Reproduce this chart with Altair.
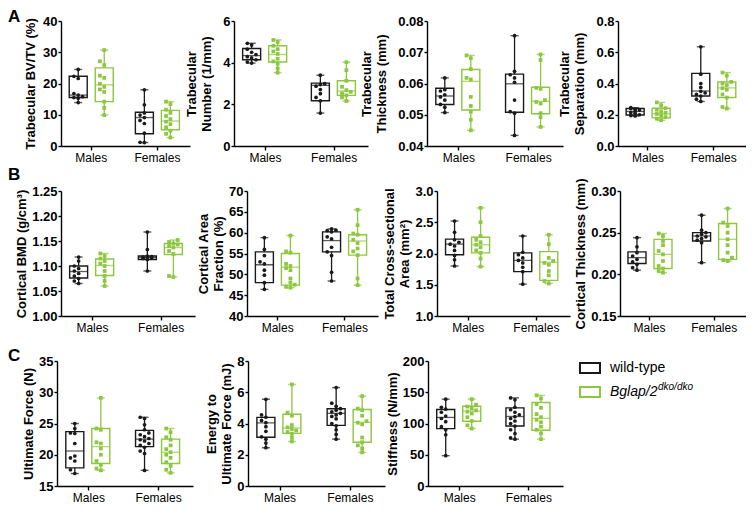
import altair as alt
import pandas as pd

FONT = "Liberation Sans"
WT_COLOR = "#1a1a1a"
KO_COLOR = "#8dc63f"
SEX = ["Males", "Females"]
GENO = ["wt", "ko"]
GROUPS = [("Males", "wt"), ("Males", "ko"), ("Females", "wt"), ("Females", "ko")]
SLOTS = ["wt-1", "wt0", "wt1", "g1", "g2", "g3", "ko-1", "ko0", "ko1"]
LEGEND_LABELS = ["wild-type", "Bglap/2"]
LEGEND_SUP = "dko/dko"

# ---------------- data (box = min, q1, median, q3, max for M-wt, M-ko, F-wt, F-ko)
bvtv_m_wt = [24.5, 22.3, 21.6, 16.8, 16.3, 15.8, 15.5, 15.3, 13.9]
bvtv_m_ko = [30.7, 27.1, 25.9, 22.5, 21.8, 19.9, 18.9, 18.1, 17.3, 14.2, 12.2, 9.9]
bvtv_f_wt = [18.0, 13.2, 10.6, 9.9, 9.1, 8.2, 7.2, 4.1, 1.2, 1.1]
bvtv_f_ko = [14.2, 13.4, 11.6, 10.6, 9.6, 8.6, 7.8, 7.0, 6.0, 4.9, 3.9, 2.7]
bvtv_box = [[13.9, 15.5, 16.3, 22.3, 24.5], [9.9, 14.2, 19.6, 25.0, 30.7],
            [1.1, 3.9, 9.1, 10.8, 18.0], [2.7, 5.2, 8.0, 11.4, 14.2]]

tbn_m_wt = [4.93, 4.85, 4.65, 4.5, 4.39, 4.29, 4.23, 4.14, 4.03, 3.98]
tbn_m_ko = [5.09, 4.99, 4.81, 4.65, 4.54, 4.42, 4.19, 4.06, 3.95, 3.72, 3.52]
tbn_f_wt = [3.4, 2.99, 2.95, 2.87, 2.71, 2.51, 2.33, 2.17, 1.58]
tbn_f_ko = [4.02, 3.64, 3.13, 2.84, 2.68, 2.6, 2.53, 2.43, 2.33, 2.16]
tbn_box = [[3.98, 4.14, 4.34, 4.68, 4.93], [3.52, 4.03, 4.39, 4.81, 5.09],
           [1.58, 2.17, 2.91, 3.02, 3.4], [2.16, 2.43, 2.64, 3.13, 4.02]]

tbth_m_wt = [0.0618, 0.0580, 0.0576, 0.0564, 0.0557, 0.0547, 0.0533, 0.0524, 0.0507]
tbth_m_ko = [0.0690, 0.0681, 0.0646, 0.0618, 0.0613, 0.0557, 0.0528, 0.0510, 0.0484, 0.0450]
tbth_f_wt = [0.0753, 0.0639, 0.0628, 0.0618, 0.0604, 0.0547, 0.0510, 0.0505, 0.0434]
tbth_f_ko = [0.0693, 0.0675, 0.0586, 0.0583, 0.0547, 0.0541, 0.0536, 0.0505, 0.0492, 0.0461]
tbth_box = [[0.0507, 0.0533, 0.0560, 0.0585, 0.0618], [0.0450, 0.0515, 0.0607, 0.0645, 0.0690],
            [0.0434, 0.0508, 0.0599, 0.0630, 0.0753], [0.0461, 0.0503, 0.0543, 0.0588, 0.0693]]

tbsp_m_wt = [0.245, 0.240, 0.236, 0.230, 0.222, 0.215, 0.210, 0.200, 0.195, 0.192]
tbsp_m_ko = [0.279, 0.260, 0.242, 0.232, 0.222, 0.212, 0.205, 0.195, 0.185, 0.175, 0.165]
tbsp_f_wt = [0.635, 0.460, 0.400, 0.375, 0.350, 0.340, 0.330, 0.320, 0.300, 0.285]
tbsp_f_ko = [0.470, 0.450, 0.410, 0.400, 0.390, 0.370, 0.360, 0.330, 0.310, 0.250, 0.240]
tbsp_box = [[0.192, 0.198, 0.221, 0.240, 0.245], [0.165, 0.180, 0.207, 0.242, 0.279],
            [0.285, 0.320, 0.352, 0.465, 0.635], [0.240, 0.310, 0.372, 0.410, 0.470]]

bmd_m_wt = [1.118, 1.110, 1.100, 1.095, 1.090, 1.085, 1.080, 1.075, 1.070, 1.065]
bmd_m_ko = [1.125, 1.120, 1.115, 1.110, 1.105, 1.100, 1.090, 1.080, 1.070, 1.060]
bmd_f_wt = [1.168, 1.133, 1.120, 1.119, 1.118, 1.117, 1.116, 1.115, 1.113, 1.090]
bmd_f_ko = [1.152, 1.148, 1.145, 1.143, 1.140, 1.137, 1.130, 1.124, 1.080, 1.078]
bmd_box = [[1.065, 1.076, 1.089, 1.100, 1.118], [1.060, 1.081, 1.101, 1.114, 1.125],
           [1.090, 1.113, 1.117, 1.120, 1.168], [1.078, 1.123, 1.137, 1.145, 1.152]]

caf_m_wt = [58.8, 56.0, 54.5, 53.0, 52.5, 51.0, 49.8, 48.0, 46.4]
caf_m_ko = [59.3, 55.5, 55.2, 52.5, 52.0, 51.5, 51.0, 49.0, 48.0, 47.5, 47.0, 46.8]
caf_f_wt = [60.9, 60.6, 60.5, 60.2, 59.0, 58.5, 56.5, 55.4, 54.5, 50.5, 48.4]
caf_f_ko = [65.5, 61.8, 59.8, 59.5, 58.3, 57.5, 56.2, 55.5, 54.6, 49.0, 47.4]
caf_box = [[46.4, 48.0, 52.3, 55.4, 58.8], [46.8, 47.4, 51.7, 55.0, 59.3],
           [48.4, 55.4, 58.1, 60.2, 60.9], [47.4, 54.6, 58.0, 59.5, 65.5]]

tca_m_wt = [2.52, 2.34, 2.22, 2.18, 2.15, 2.12, 2.05, 1.97, 1.90, 1.80]
tca_m_ko = [2.73, 2.50, 2.28, 2.22, 2.18, 2.14, 2.10, 2.05, 2.01, 1.92, 1.79]
tca_f_wt = [2.28, 2.02, 1.98, 1.93, 1.89, 1.85, 1.78, 1.71, 1.51]
tca_f_ko = [2.30, 2.15, 1.93, 1.88, 1.85, 1.82, 1.72, 1.65, 1.56, 1.52]
tca_box = [[1.80, 1.98, 2.15, 2.23, 2.52], [1.79, 2.01, 2.14, 2.26, 2.73],
           [1.51, 1.71, 1.89, 2.01, 2.28], [1.52, 1.57, 1.86, 2.03, 2.30]]

ctth_m_wt = [0.244, 0.233, 0.226, 0.222, 0.218, 0.215, 0.212, 0.208, 0.205]
ctth_m_ko = [0.249, 0.246, 0.240, 0.235, 0.228, 0.224, 0.216, 0.210, 0.207, 0.204, 0.202]
ctth_f_wt = [0.271, 0.253, 0.250, 0.248, 0.246, 0.245, 0.243, 0.241, 0.238, 0.214]
ctth_f_ko = [0.279, 0.262, 0.258, 0.250, 0.242, 0.235, 0.226, 0.220, 0.217, 0.216]
ctth_box = [[0.205, 0.213, 0.220, 0.227, 0.244], [0.202, 0.207, 0.224, 0.242, 0.249],
            [0.214, 0.240, 0.246, 0.250, 0.271], [0.216, 0.218, 0.242, 0.261, 0.279]]

uf_m_wt = [25.0, 24.2, 23.5, 23.4, 21.8, 19.8, 19.5, 19.0, 17.6, 17.0]
uf_m_ko = [29.1, 24.2, 24.0, 22.0, 21.8, 21.0, 20.0, 19.0, 18.4, 17.8, 17.5]
uf_f_wt = [26.0, 25.8, 24.8, 24.0, 23.5, 23.2, 22.9, 22.6, 22.4, 22.2, 21.8, 21.5, 21.2, 20.6, 20.2, 17.5]
uf_f_ko = [24.2, 23.6, 22.8, 22.4, 21.5, 20.9, 20.4, 20.0, 19.5, 18.8, 18.2, 17.6, 17.1]
uf_box = [[17.0, 17.9, 20.6, 23.7, 25.0], [17.5, 18.6, 21.3, 24.2, 29.1],
          [17.5, 21.3, 22.5, 23.9, 26.0], [17.1, 18.6, 20.4, 22.5, 24.2]]

en_m_wt = [5.55, 4.55, 4.40, 4.20, 4.05, 3.80, 3.50, 3.15, 3.00, 2.75, 2.45]
en_m_ko = [6.50, 4.70, 4.50, 3.90, 3.75, 3.65, 3.55, 3.45, 3.35, 3.10, 2.85]
en_f_wt = [6.30, 5.30, 5.10, 4.95, 4.85, 4.75, 4.65, 4.55, 4.45, 4.30, 4.00, 3.85, 3.60, 3.30, 3.00]
en_f_ko = [5.75, 4.95, 4.85, 4.50, 4.15, 4.05, 3.95, 3.10, 2.80, 2.60, 2.40, 2.15]
en_box = [[2.45, 3.12, 4.04, 4.39, 5.55], [2.85, 3.37, 3.71, 4.59, 6.50],
          [3.00, 3.88, 4.65, 4.94, 6.30], [2.15, 2.80, 4.08, 4.90, 5.75]]

st_m_wt = [139, 126, 123, 118, 112, 108, 103, 95, 90, 82, 48.5]
st_m_ko = [139, 130, 127, 124, 121, 119, 116, 110, 104, 97, 92]
st_f_wt = [141, 138, 126, 122, 118, 114, 111, 108, 104, 100, 96, 90, 84, 77, 75]
st_f_ko = [145, 140, 131, 125, 115, 110, 106, 102, 95, 90, 84, 75]
st_box = [[48.5, 91.8, 109.7, 122.4, 139], [92, 103.6, 119.9, 127.6, 139],
          [75, 95.9, 111.2, 125, 141], [75, 89.3, 108.2, 133.7, 145]]


def swarm(vals, lo, hi, H, mind=3.8):
    """Deterministic side-by-side placement of overlapping points."""
    order = sorted(range(len(vals)), key=lambda i: vals[i])
    placed = []
    out = [0] * len(vals)
    for i in order:
        py = (vals[i] - lo) / (hi - lo) * H
        best = None
        for j in (0, -1, 1):
            if not any(k == j and abs(py - q) < mind for q, k in placed):
                best = j
                break
        if best is None:
            best = min((0, -1, 1), key=lambda j: sum(1 for q, k in placed if k == j and abs(py - q) < mind))
        placed.append((py, best))
        out[i] = best
    return out


color = alt.Color("geno:N", scale=alt.Scale(domain=GENO, range=[WT_COLOR, KO_COLOR]), legend=None)
stroke = alt.Stroke("geno:N", scale=alt.Scale(domain=GENO, range=[WT_COLOR, KO_COLOR]), legend=None)
shape = alt.Shape("geno:N", scale=alt.Scale(domain=GENO, range=["circle", "square"]), legend=None)


def make_panel(W, H, title, lo, hi, step, fmt, box, pts, letter=None, tpad=3):
    bdf = pd.DataFrame([
        {"sex": s, "geno": g, "slot": g + "0", "lo": b[0], "q1": b[1], "med": b[2], "q3": b[3], "hi": b[4]}
        for (s, g), b in zip(GROUPS, box)])
    rows = []
    for (s, g), vals in zip(GROUPS, pts):
        for v, j in zip(vals, swarm(vals, lo, hi, H)):
            rows.append({"sex": s, "geno": g, "slot": f"{g}{j}", "value": v})
    pdf = pd.DataFrame(rows)
    n = int(round((hi - lo) / step))
    ticks = [round(lo + i * step, 6) for i in range(n + 1)]
    ys = alt.Scale(domain=[lo, hi], nice=False, zero=False)
    ya = alt.Axis(title=title, values=ticks, format=fmt, titlePadding=tpad)
    x = alt.X("sex:N", scale=alt.Scale(domain=SEX, paddingInner=0.41, paddingOuter=0.18, align=0.45),
              axis=alt.Axis(title=None, labelAngle=0))
    xo = alt.XOffset("slot:N", scale=alt.Scale(domain=SLOTS, paddingInner=0, paddingOuter=0))
    bb = alt.Chart(bdf)
    whisk = bb.mark_rule(strokeWidth=1.3).encode(
        x=x, xOffset=xo, y=alt.Y("lo:Q", scale=ys, axis=ya), y2="hi:Q", color=color)
    caps = bb.transform_fold(["lo", "hi"], as_=["k", "v"]).mark_tick(
        orient="horizontal", size=8, thickness=1.4).encode(
        x=x, xOffset=xo, y=alt.Y("v:Q", scale=ys, axis=ya), color=color)
    boxm = bb.mark_bar(size=18, fill="white", strokeWidth=1.4).encode(
        x=x, xOffset=xo, y=alt.Y("q1:Q", scale=ys, axis=ya), y2="q3:Q", stroke=stroke)
    med = bb.mark_tick(orient="horizontal", size=18, thickness=1.3).encode(
        x=x, xOffset=xo, y=alt.Y("med:Q", scale=ys, axis=ya), color=color)
    ptm = alt.Chart(pdf).mark_point(filled=True, size=14, opacity=1).encode(
        x=x, xOffset=xo, y=alt.Y("value:Q", scale=ys, axis=ya), color=color, shape=shape)
    layers = [whisk, caps, boxm, med, ptm]
    if letter is not None:
        layers.append(alt.Chart(pd.DataFrame({"t": [letter[0]]})).mark_text(
            align="left", baseline="top", fontSize=17, fontWeight="bold", font=FONT, color="black"
        ).encode(text="t:N", x=alt.value(letter[1]), y=alt.value(letter[2])))
    return alt.layer(*layers).properties(width=W, height=H)


def spacer(w, h, anchor_y=0):
    # invisible cell; its point sets the top bound of a row
    return alt.Chart(pd.DataFrame({"s": [0]})).mark_point(opacity=0, size=1).encode(
        x=alt.value(0), y=alt.value(anchor_y)).properties(width=w, height=h)


def legend_panel(W, H):
    df = pd.DataFrame({"geno": GENO, "label": LEGEND_LABELS})
    ly = alt.Y("geno:N", scale=alt.Scale(domain=GENO, range=[7, 31], padding=0), axis=None)
    base = alt.Chart(df)
    sym = base.mark_point(shape="M-1,-0.5H1V0.5H-1Z", size=400, filled=False, strokeWidth=2, opacity=1).encode(
        x=alt.value(15), y=ly, color=color)
    lab_wt = base.transform_filter("datum.geno == 'wt'").mark_text(
        align="left", baseline="middle", fontSize=14, font=FONT, color="black").encode(
        x=alt.value(35), y=ly, text="label:N")
    lab_ko = base.transform_filter("datum.geno == 'ko'").mark_text(
        align="left", baseline="middle", fontSize=14, font=FONT, fontStyle="italic", color="black").encode(
        x=alt.value(35), y=ly, text="label:N")
    sup = base.transform_filter("datum.geno == 'ko'").mark_text(
        align="left", baseline="middle", fontSize=10, font=FONT, fontStyle="italic", color="black", dy=-5).encode(
        x=alt.value(83), y=ly, text=alt.value(LEGEND_SUP))
    return alt.layer(sym, lab_wt, lab_ko, sup).properties(width=W, height=H)


H = 125

A1 = make_panel(129, H, "Trabecular BV/TV (%)", 0, 40, 10, "d", bvtv_box,
                [bvtv_m_wt, bvtv_m_ko, bvtv_f_wt, bvtv_f_ko], letter=("A", -53, -12), tpad=5)
A2 = make_panel(134, H, ["Trabecular", "Number (1/mm)"], 0, 6, 2, "d", tbn_box,
                [tbn_m_wt, tbn_m_ko, tbn_f_wt, tbn_f_ko], tpad=9)
A3 = make_panel(136, H, ["Trabecular", "Thickness (mm)"], 0.04, 0.08, 0.01, ".2f", tbth_box,
                [tbth_m_wt, tbth_m_ko, tbth_f_wt, tbth_f_ko], tpad=9)
A4 = make_panel(128, H, ["Trabecular", "Separation (mm)"], 0, 0.8, 0.2, ".1f", tbsp_box,
                [tbsp_m_wt, tbsp_m_ko, tbsp_f_wt, tbsp_f_ko], tpad=9)

B1 = make_panel(134, H, "Cortical BMD (g/cm³)", 1.0, 1.25, 0.05, ".2f", bmd_box,
                [bmd_m_wt, bmd_m_ko, bmd_f_wt, bmd_f_ko], letter=("B", -53, -24))
B2 = make_panel(131, H, ["Cortical Area", "Fraction (%)"], 40, 70, 5, "d", caf_box,
                [caf_m_wt, caf_m_ko, caf_f_wt, caf_f_ko])
B3 = make_panel(133, H, ["Total Cross-sectional", "Area (mm²)"], 1.0, 3.0, 0.5, ".1f", tca_box,
                [tca_m_wt, tca_m_ko, tca_f_wt, tca_f_ko])
B4 = make_panel(126, H, "Cortical Thickness (mm)", 0.15, 0.30, 0.05, ".2f", ctth_box,
                [ctth_m_wt, ctth_m_ko, ctth_f_wt, ctth_f_ko])

C1 = make_panel(136, H, "Ultimate Force (N)", 15, 35, 5, "d", uf_box,
                [uf_m_wt, uf_m_ko, uf_f_wt, uf_f_ko], letter=("C", -49, -13))
C2 = make_panel(137, H, ["Energy to", "Ultimate Force (mJ)"], 0, 8, 2, "d", en_box,
                [en_m_wt, en_m_ko, en_f_wt, en_f_ko])
C3 = make_panel(135, H, "Stiffness (N/mm)", 0, 200, 50, "d", st_box,
                [st_m_wt, st_m_ko, st_f_wt, st_f_ko])
LEG = legend_panel(150, H)

rowA = alt.hconcat(spacer(5, H), A1, spacer(44, H), A2, spacer(59, H), A3, spacer(55, H), A4,
                   spacing=0, bounds="flush")
rowB = alt.hconcat(spacer(5, H, -27), B1, spacer(52, H), B2, spacer(59, H), B3, spacer(50, H), B4,
                   spacing=0, bounds="flush")
rowC = alt.hconcat(spacer(1, H, -27), C1, spacer(55, H), C2, spacer(43, H), C3, spacer(12, H), LEG,
                   spacing=0, bounds="flush")

chart = alt.vconcat(rowA, rowB, rowC, spacing=0).properties(padding=0).configure_view(
    strokeWidth=0
).configure_axis(
    domainColor="black", domainWidth=1.4, tickColor="black", tickWidth=1.4,
    labelColor="black", titleColor="black", labelFont=FONT, titleFont=FONT, grid=False
).configure_axisY(
    labelFontSize=13, labelFontWeight="bold", tickSize=3, labelPadding=1,
    titleFontSize=13, titleFontWeight="bold", titlePadding=3, titleLineHeight=15
).configure_axisX(
    labelFontSize=12, labelFontWeight="normal", tickSize=4, labelPadding=2
)

chart.save("out.html", embed_options={"renderer": "svg", "actions": False})
